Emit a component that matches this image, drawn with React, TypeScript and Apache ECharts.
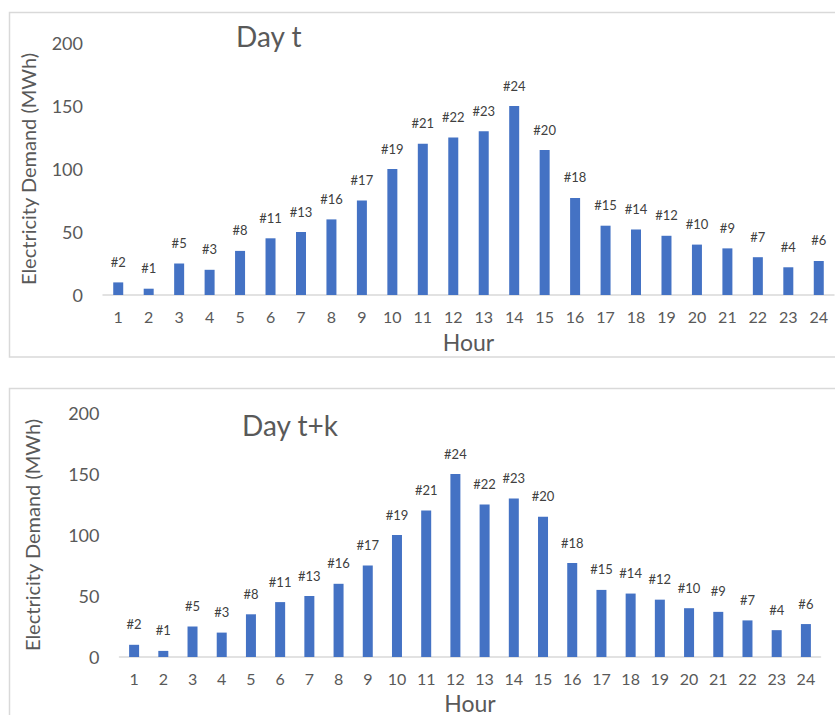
import React, { useEffect, useRef } from "react";
import * as echarts from "echarts";

const hours = ["1","2","3","4","5","6","7","8","9","10","11","12","13","14","15","16","17","18","19","20","21","22","23","24"];
const dayTValues = [10,5,25,20,35,45,50,60,75,100,120,125,130,150,115,77,55,52,47,40,37,30,22,27];
const dayTRanks = ["#2","#1","#5","#3","#8","#11","#13","#16","#17","#19","#21","#22","#23","#24","#20","#18","#15","#14","#12","#10","#9","#7","#4","#6"];
const dayTkValues = [10,5,25,20,35,45,50,60,75,100,120,150,125,130,115,77,55,52,47,40,37,30,22,27];
const dayTkRanks = ["#2","#1","#5","#3","#8","#11","#13","#16","#17","#19","#21","#24","#22","#23","#20","#18","#15","#14","#12","#10","#9","#7","#4","#6"];
const yTicks = { min: 0, max: 200, interval: 50 };
const titles = ["Day t", "Day t+k"];
const yName = "Electricity Demand (MWh)";
const xName = "Hour";

const FONT = "Lato, 'Open Sans', sans-serif";
const TXT = "#595959";
const LBL = "#404040";
const BAR = "#4472C4";
const BORDER = "#d9d9d9";

export default function App() {
  const ref = useRef<HTMLDivElement>(null);
  useEffect(() => {
    if (!ref.current) return;
    const chart = echarts.init(ref.current, null, { renderer: "svg" });
    const grids = [
      { left: 103, top: 43, width: 731, height: 252 },
      { left: 119.5, top: 413, width: 701, height: 247 },
    ];
    const mkX = (i: number) => ({
      type: "category",
      gridIndex: i,
      data: hours,
      boundaryGap: true,
      axisLine: { show: true, lineStyle: { color: BORDER, width: 1.5 } },
      axisTick: { show: false },
      axisLabel: { color: TXT, fontFamily: FONT, fontSize: 16, margin: 13, lineHeight: 16 },
      name: xName,
      nameLocation: "middle",
      nameGap: i === 0 ? 35 : 34,
      nameTextStyle: { color: TXT, fontFamily: FONT, fontSize: 23, lineHeight: 23 },
    });
    const mkY = (i: number) => ({
      type: "value",
      gridIndex: i,
      min: yTicks.min,
      max: yTicks.max,
      interval: yTicks.interval,
      axisLine: { show: false },
      axisTick: { show: false },
      splitLine: { show: false },
      axisLabel: { color: TXT, fontFamily: FONT, fontSize: 18, margin: 20 },
      name: yName,
      nameLocation: "middle",
      nameGap: i === 0 ? 65 : 77.5,
      nameTextStyle: { color: TXT, fontFamily: FONT, fontSize: 20 },
    });
    const mkSeries = (i: number, vals: number[], ranks: string[]) => ({
      type: "bar",
      xAxisIndex: i,
      yAxisIndex: i,
      data: vals,
      barWidth: 10,
      itemStyle: { color: BAR },
      label: {
        show: true,
        position: "top",
        distance: 14,
        color: LBL,
        fontFamily: FONT,
        fontSize: 13,
        formatter: (p: any) => ranks[p.dataIndex],
      },
    });
    chart.setOption({
      animation: false,
      backgroundColor: "#ffffff",
      title: [
        { text: titles[0], left: 231, top: 17, textStyle: { color: TXT, fontFamily: FONT, fontSize: 28, fontWeight: "normal" } },
        { text: titles[1], left: 237, top: 406, textStyle: { color: TXT, fontFamily: FONT, fontSize: 28, fontWeight: "normal" } },
      ],
      grid: grids,
      xAxis: [mkX(0), mkX(1)],
      yAxis: [mkY(0), mkY(1)],
      series: [mkSeries(0, dayTValues, dayTRanks), mkSeries(1, dayTkValues, dayTkRanks)],
      graphic: [
        { type: "rect", silent: true, z: -1, shape: { x: 9.5, y: 12.5, width: 840, height: 344.5 }, style: { fill: "none", stroke: BORDER, lineWidth: 1.5 } },
        { type: "rect", silent: true, z: -1, shape: { x: 9.5, y: 388.5, width: 840, height: 400 }, style: { fill: "none", stroke: BORDER, lineWidth: 1.5 } },
      ],
    });
    return () => chart.dispose();
  }, []);
  return (
    <div
      ref={ref}
      style={{ position: "absolute", left: 0, top: 0, width: 835, height: 715 }}
    />
  );
}
